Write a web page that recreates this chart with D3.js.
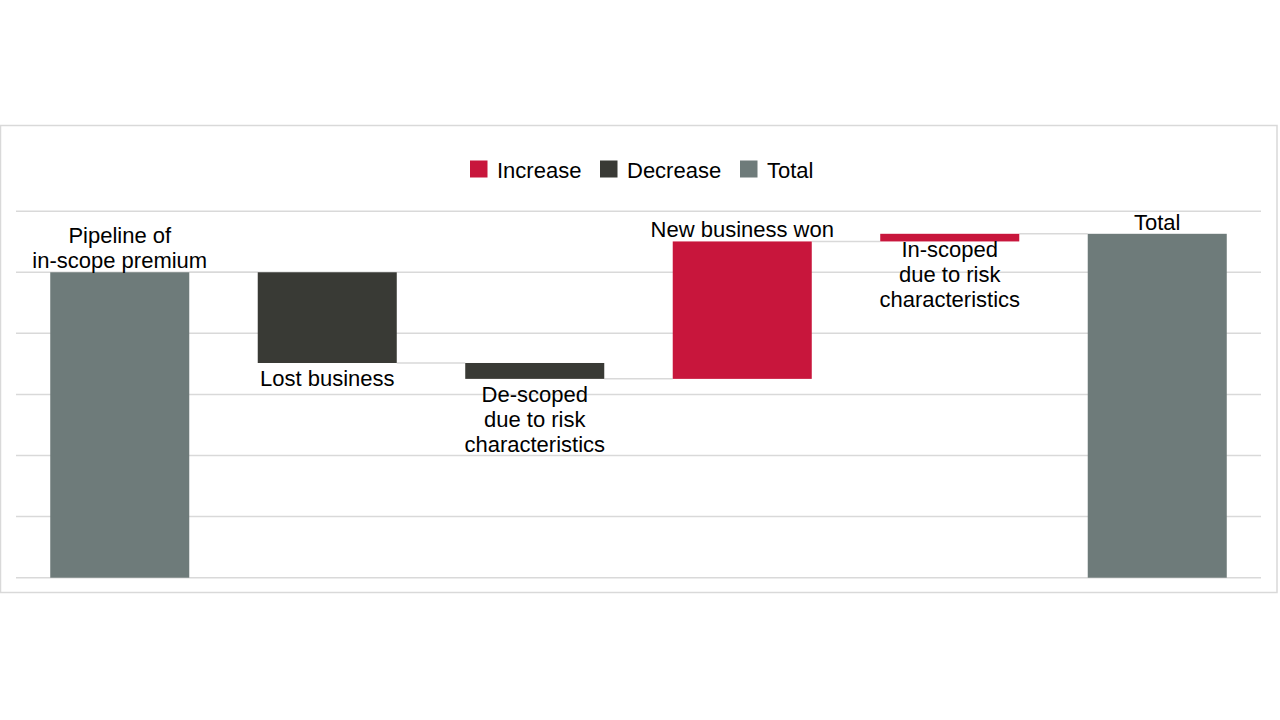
<!DOCTYPE html>
<html><head><meta charset="utf-8">
<script src="https://cdn.jsdelivr.net/npm/d3@7"></script>
<style>body{margin:0;background:#fff;}svg{display:block;font-family:Arial,"Liberation Sans",sans-serif;}</style>
</head><body>
<svg id="c" width="1280" height="720"></svg>
<script>
const categories = ["Pipeline of\nin-scope premium","Lost business","De-scoped\ndue to risk\ncharacteristics","New business won","In-scoped\ndue to risk\ncharacteristics","Total"];
const kinds = ["Total","Decrease","Decrease","Increase","Increase","Total"];
const values = [5.0, -1.485, -0.26, 2.25, 0.125, 5.63];
const labelPlacement = ["above","below","below","above","inside","above"];
const yTicks = [0,1,2,3,4,5,6];
const legendItems = ["Increase","Decrease","Total"];
const colors = {Increase:"#C8163C", Decrease:"#393A35", Total:"#6E7B7A"};

const svg = d3.select("#c");
svg.append("rect").attr("x",0.5).attr("y",125.5).attr("width",1276.5).attr("height",467)
  .attr("fill","#fff").attr("stroke","#d9d9d9").attr("stroke-width",1.5);

const x = d3.scaleBand().domain(d3.range(categories.length)).range([16,1261]).paddingInner(0.33).paddingOuter(0.165);
const y = d3.scaleLinear().domain([0,6]).range([577.7,211.2]);

// gridlines
svg.append("g").selectAll("line").data(yTicks).join("line")
  .attr("x1",16).attr("x2",1261).attr("y1",d=>y(d)).attr("y2",d=>y(d))
  .attr("stroke","#d9d9d9").attr("stroke-width",1.5);

// compute waterfall
let cum = 0;
const bars = values.map((v,i)=>{
  let lo, hi, end;
  if(kinds[i]==="Total"){ lo=0; hi=v; end=v; cum=v; }
  else { const start=cum; end=cum+v; lo=Math.min(start,end); hi=Math.max(start,end); cum=end; }
  return {i, lo, hi, end, kind:kinds[i]};
});

// connectors
svg.append("g").selectAll("line").data(bars.slice(0,-1)).join("line")
  .attr("x1",d=>x(d.i)+x.bandwidth()).attr("x2",d=>x(d.i+1))
  .attr("y1",d=>y(d.end)).attr("y2",d=>y(d.end))
  .attr("stroke","#d9d9d9").attr("stroke-width",1.5);

svg.append("g").selectAll("rect").data(bars).join("rect")
  .attr("x",d=>x(d.i)).attr("width",x.bandwidth())
  .attr("y",d=>y(d.hi)).attr("height",d=>y(d.lo)-y(d.hi))
  .attr("fill",d=>colors[d.kind]);

// labels
const lh = 25;
const lg = svg.append("g").attr("font-size",22).attr("fill","#000").attr("text-anchor","middle");
bars.forEach(d=>{
  const lines = categories[d.i].split("\n");
  const cx = x(d.i)+x.bandwidth()/2;
  let firstCenter;
  const p = labelPlacement[d.i];
  if(p==="above") firstCenter = y(d.hi) - 12 - (lines.length-1)*lh;
  else if(p==="below") firstCenter = y(d.lo) + 15;
  else firstCenter = y(d.lo) + 8;
  const t = lg.append("text").attr("x",cx);
  lines.forEach((s,k)=>{
    t.append("tspan").attr("x",cx).attr("y",firstCenter+k*lh).attr("dy","0.35em").text(s);
  });
});

// legend
const legX = [470, 600, 740];
const leg = svg.append("g");
legendItems.forEach((k,i)=>{
  leg.append("rect").attr("x",legX[i]).attr("y",160.5).attr("width",17.5).attr("height",17).attr("fill",colors[k]);
  leg.append("text").attr("x",legX[i]+27).attr("y",170).attr("dy","0.35em").attr("font-size",22).attr("fill","#000").text(k);
});
</script>
</body></html>
